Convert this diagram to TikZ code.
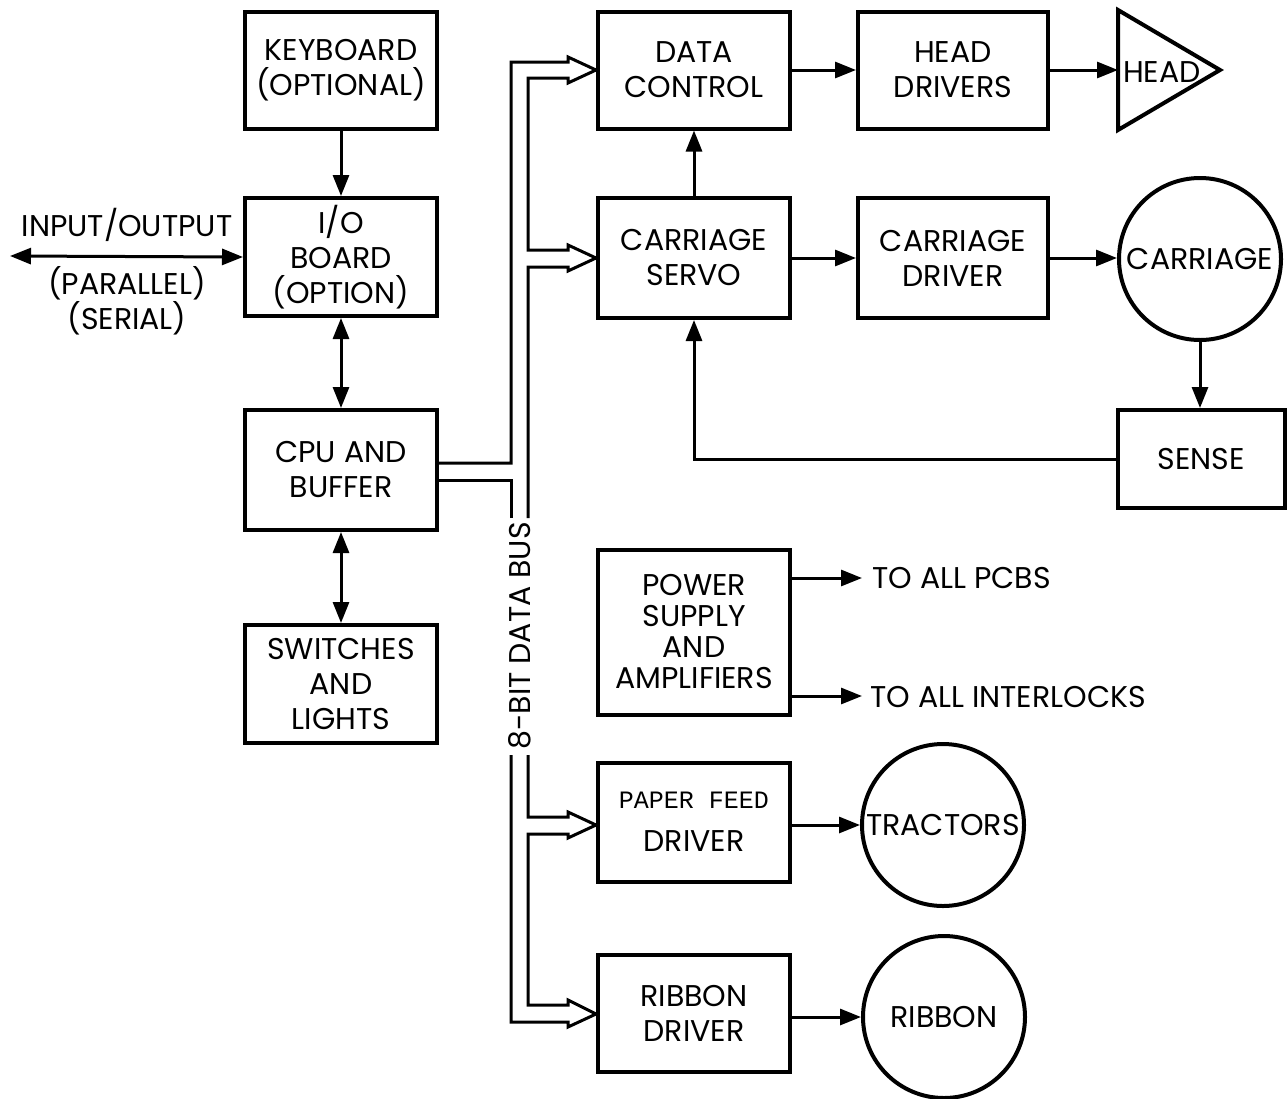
\documentclass[tikz,border=0pt]{standalone}
\usepackage{fontspec}
\setmainfont{Poppins}
\newfontfamily\pfmono{Liberation Mono}
\usetikzlibrary{arrows.meta,calc}
\begin{document}
\begin{tikzpicture}[x=1pt,y=-1pt,
  box/.style={draw,line width=4pt,minimum width=192pt,minimum height=117pt,align=center,
    font=\fontsize{30}{35}\selectfont,inner sep=0pt},
  circ/.style={draw,circle,line width=4pt,minimum size=162pt,inner sep=0pt,
    font=\fontsize{30}{35}\selectfont},
  lbl/.style={font=\fontsize{30}{35}\selectfont,inner sep=0pt},
  arr/.style={line width=3pt,-{Triangle[length=21pt,width=16pt]}},
  darr/.style={line width=3pt,{Triangle[length=21pt,width=16pt]}-{Triangle[length=21pt,width=16pt]}},
  bus/.style={line width=3pt,line join=miter}]
\useasboundingbox (0,0) rectangle (1287,1098);
% left column
\node[box] (kb) at (341,70) {KEYBOARD\\(OPTIONAL)};
\node[box,minimum height=118pt] (io) at (341,257) {I/O\\BOARD\\(OPTION)};
\node[box,minimum height=120pt] (cpu) at (341,470) {CPU AND\\BUFFER};
\node[box,minimum height=118pt] (sw) at (341,684) {SWITCHES\\AND\\LIGHTS};
% middle column
\node[box] (dc) at (694,70) {DATA\\CONTROL};
\node[box,minimum height=120pt] (cs) at (694,258) {CARRIAGE\\SERVO};
\node[box,minimum height=165pt,font=\fontsize{30}{31}\selectfont] (ps) at (694,632) {POWER\\SUPPLY\\AND\\AMPLIFIERS};
\node[box,minimum height=119pt] (pf) at (694,822) {{\pfmono\fontsize{25}{26}\selectfont PAPER FEED}\\[8pt]DRIVER};
\node[box] (rd) at (694,1013) {RIBBON\\DRIVER};
% right columns
\node[box,minimum width=190pt] (hd) at (953,70) {HEAD\\DRIVERS};
\node[box,minimum width=190pt,minimum height=120pt] (cd) at (953,258) {CARRIAGE\\DRIVER};
\draw[line width=4pt,line join=miter] (1118,10) -- (1220,70) -- (1118,130) -- cycle;
\coordinate (headw) at (1118,70);
\node[lbl] (head) at (1162,72) {HEAD};
\node[circ] (car) at (1200,259) {CARRIAGE};
\node[box,minimum width=167pt,minimum height=98pt] (sense) at (1201,459) {SENSE};
\node[circ] (tr) at (943,825) {TRACTORS};
\node[circ] (rb) at (944,1017) {RIBBON};
% labels
\node[lbl] (iot) at (127,225) {INPUT/OUTPUT};
\node[lbl] (par) at (127,283) {(PARALLEL)};
\node[lbl] (ser) at (127,318) {(SERIAL)};
\coordinate (iol) at (10,256);
\coordinate (pcb) at (862,578);
\coordinate (ilk) at (862,696);
\node[lbl,anchor=west] (pcbt) at (872,578) {TO ALL PCBS};
\node[lbl,anchor=west] (ilkt) at (870,697) {TO ALL INTERLOCKS};
\node[lbl,rotate=90] (busl) at (520,636) {8-BIT DATA BUS};
% connectors
\draw[arr] (kb.south) -- (io.north);
\draw[darr] (io.south) -- (cpu.north);
\draw[darr] (cpu.south) -- (sw.north);
\draw[darr] (iol) -- (io.west);
\draw[arr] (dc.east) -- (hd.west);
\draw[arr] (hd.east) -- (headw);
\draw[arr] (cs.north) -- (dc.south);
\draw[arr] (cs.east) -- (cd.west);
\draw[arr] (cd.east) -- (cd.east -| car.west);
\draw[arr] (car.south) -- (car.south |- sense.north);
\draw[arr] (sense.west) -| (cs.south);
\draw[arr] (ps.east |- pcb) -- (pcb);
\draw[arr] (ps.east |- ilk) -- (ilk);
\draw[arr] (pf.east |- tr.west) -- (tr.west);
\draw[arr] (rd.east |- rb.west) -- (rb.west);
% 8-bit data bus (double line)
\draw[bus] (cpu.east |- 0,463) -- (511,463) -- (511,62) -- (568,62) -- (568,57) -- (dc.west |- 0,70)
  -- (568,83) -- (568,78) -- (528,78) -- (528,250) -- (568,250) -- (568,245) -- (cs.west |- 0,258)
  -- (568,271) -- (568,267) -- (528,267) -- (528,518);
\draw[bus] (528,755) -- (528,817) -- (568,817) -- (568,812) -- (pf.west |- 0,825)
  -- (568,838) -- (568,834) -- (528,834) -- (528,1005) -- (568,1005) -- (568,1000) -- (rd.west |- 0,1014)
  -- (568,1027) -- (568,1022) -- (511,1022) -- (511,755);
\draw[bus] (511,518) -- (511,480) -- (cpu.east |- 0,480);
\end{tikzpicture}
\end{document}
